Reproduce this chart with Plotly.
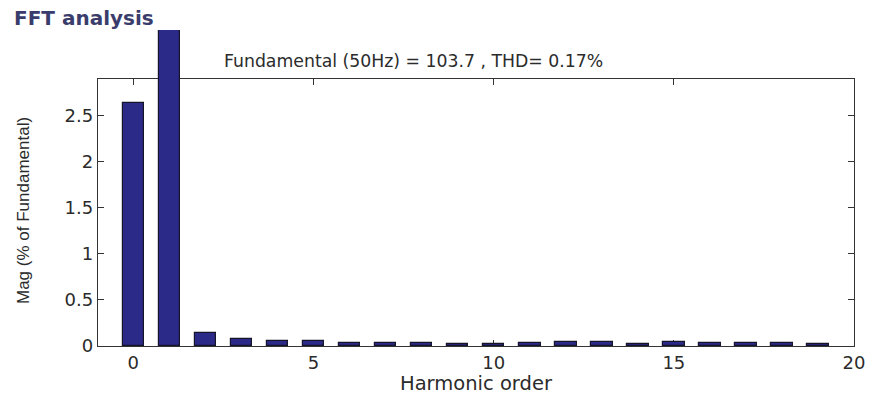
import plotly.graph_objects as go

# Data
harmonics = list(range(20))
magnitudes = [2.64, 100.0, 0.14, 0.075, 0.05, 0.05, 0.035, 0.035, 0.035, 0.02,
              0.02, 0.03, 0.045, 0.045, 0.025, 0.04, 0.03, 0.03, 0.03, 0.025]
x_ticks = [0, 5, 10, 15, 20]
y_ticks = [0, 0.5, 1, 1.5, 2, 2.5]
title_text = "FFT analysis"
info_text = "Fundamental (50Hz) = 103.7 , THD= 0.17%"
x_label = "Harmonic order"
y_label = "Mag (% of Fundamental)"

W, H = 869, 394
ML, MR, MT, MB = 98, 15, 30, 48
plot_w = W - ML - MR
plot_h = H - MT - MB
main_top_px = 79
dom_top = (H - MB - main_top_px) / plot_h
y_max_main = 2.9
y_max_tall = y_max_main / dom_top
x_range = [-0.98, 20]

txt = "#2b2b2b"
fnt = "DejaVu Sans"

fig = go.Figure()

# Invisible trace to anchor the main (framed) axes
fig.add_trace(go.Scatter(x=[0], y=[0], mode="markers", marker=dict(opacity=0),
                         showlegend=False, hoverinfo="skip"))
# Bars drawn in a taller, invisible subplot so the fundamental bar rises above the frame
fig.add_trace(go.Bar(
    x=harmonics, y=magnitudes, width=0.6,
    marker=dict(color="#2c2a88", line=dict(color="#15152a", width=1.2)),
    xaxis="x2", yaxis="y2", showlegend=False, hoverinfo="x+y",
))

axis_common = dict(showline=True, linecolor="#333333", linewidth=1.3, mirror="ticks",
                   ticks="inside", ticklen=6, tickcolor="#333333", tickwidth=1.2,
                   showgrid=False, zeroline=False, automargin=False,
                   tickfont=dict(family=fnt, size=18, color=txt))

fig.update_layout(
    width=W, height=H,
    margin=dict(l=ML, r=MR, t=MT, b=MB, autoexpand=False),
    plot_bgcolor="rgba(0,0,0,0)", paper_bgcolor="white",
    xaxis=dict(domain=[0, 1], range=x_range, tickvals=x_ticks, anchor="y", **axis_common),
    yaxis=dict(domain=[0, dom_top], range=[0, y_max_main], tickvals=y_ticks,
               ticktext=[("%g" % v) for v in y_ticks], anchor="x", **axis_common),
    xaxis2=dict(domain=[0, 1], range=x_range, visible=False, anchor="y2"),
    yaxis2=dict(domain=[0, 1], range=[0, y_max_tall], visible=False, anchor="x2"),
    bargap=0,
    annotations=[
        dict(text=title_text, xref="paper", yref="paper", x=(12 - ML) / plot_w,
             y=(H - MB - 18) / plot_h, xanchor="left", yanchor="middle", showarrow=False,
             font=dict(family=fnt, size=20, color="#3a3d6c", weight="bold")),
        dict(text=info_text, xref="paper", yref="paper", x=(413 - ML) / plot_w,
             y=(H - MB - 61) / plot_h, xanchor="center", yanchor="middle", showarrow=False,
             font=dict(family=fnt, size=17.3, color=txt)),
        dict(text=x_label, xref="paper", yref="paper", x=(476 - ML) / plot_w,
             y=(H - MB - 383) / plot_h, xanchor="center", yanchor="middle", showarrow=False,
             font=dict(family=fnt, size=19.5, color=txt)),
        dict(text=y_label, xref="paper", yref="paper", x=(24 - ML) / plot_w,
             y=(H - MB - 211) / plot_h, xanchor="center", yanchor="middle", showarrow=False,
             textangle=-90, font=dict(family="Liberation Sans", size=17, color=txt)),
    ],
)

fig.write_html("out.html", config={"displayModeBar": False},
               post_script="document.body.style.margin='0';")
